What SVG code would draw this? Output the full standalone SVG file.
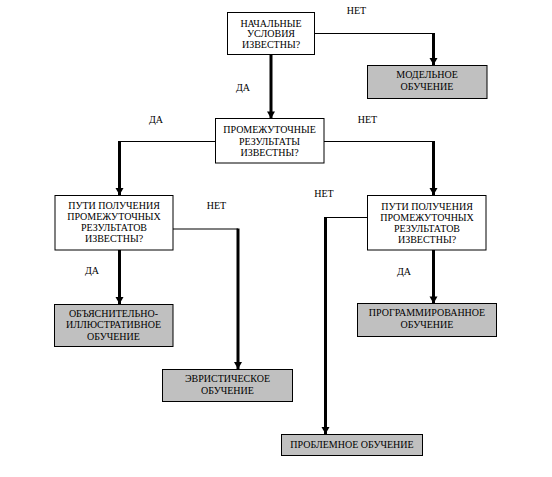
<svg xmlns="http://www.w3.org/2000/svg" width="552" height="477" viewBox="0 0 552 477">
<style>
text{font-family:"Liberation Serif","Times New Roman",serif;font-size:10px;fill:#000;text-anchor:middle}
.q{fill:#fff;stroke:#000;stroke-width:1}
.r{fill:#c0c0c0;stroke:#000;stroke-width:1}
.thin{stroke:#000;stroke-width:1.2;fill:none}
.thick{stroke:#000;stroke-width:3;fill:none}
</style>
<defs>
<marker id="arr" markerUnits="userSpaceOnUse" viewBox="-8 -5 9 10" refX="0" refY="0" markerWidth="9" markerHeight="10" orient="auto" overflow="visible">
<path d="M-7,-4 L-7,4 L0,0 Z" fill="#000"/>
</marker>
</defs>
<rect width="552" height="477" fill="#fff"/>
<g id="connectors">
<line class="thin" x1="315" y1="33.5" x2="433.5" y2="33.5"/>
<line class="thick" x1="433.5" y1="33" x2="433.5" y2="65" marker-end="url(#arr)"/>
<line class="thick" x1="271" y1="55" x2="271" y2="118.5" marker-end="url(#arr)"/>
<line class="thin" x1="215" y1="141.5" x2="119" y2="141.5"/>
<line class="thick" x1="119.5" y1="141" x2="119.5" y2="195" marker-end="url(#arr)"/>
<line class="thin" x1="324" y1="141.5" x2="433.5" y2="141.5"/>
<line class="thick" x1="433.5" y1="141" x2="433.5" y2="195" marker-end="url(#arr)"/>
<line class="thick" x1="119.5" y1="250" x2="119.5" y2="304" marker-end="url(#arr)"/>
<line class="thin" x1="173" y1="229" x2="238" y2="229"/>
<line class="thick" x1="238" y1="228.5" x2="238" y2="369" marker-end="url(#arr)"/>
<line class="thin" x1="367" y1="217.5" x2="325" y2="217.5"/>
<line class="thick" x1="325.5" y1="217" x2="325.5" y2="434" marker-end="url(#arr)"/>
<line class="thick" x1="433.5" y1="250" x2="433.5" y2="303.5" marker-end="url(#arr)"/>
<text x="356.5" y="14">НЕТ</text>
<text x="243" y="91">ДА</text>
<text x="156" y="123">ДА</text>
<text x="367.5" y="123">НЕТ</text>
<text x="324" y="197">НЕТ</text>
<text x="216.5" y="209">НЕТ</text>
<text x="92" y="274">ДА</text>
<text x="404" y="275">ДА</text>
</g>
<g id="n1">
<rect class="q" x="227.5" y="12.5" width="87" height="42"/>
<text x="271" y="26.5">НАЧАЛЬНЫЕ</text>
<text x="271" y="37">УСЛОВИЯ</text>
<text x="271" y="47.5">ИЗВЕСТНЫ?</text>
</g>
<g id="n2">
<rect class="r" x="367.5" y="65.5" width="119.5" height="33"/>
<text x="427" y="78">МОДЕЛЬНОЕ</text>
<text x="427" y="89.5">ОБУЧЕНИЕ</text>
</g>
<g id="n3">
<rect class="q" x="215.5" y="118.5" width="108.5" height="44.5"/>
<text x="269.5" y="133">ПРОМЕЖУТОЧНЫЕ</text>
<text x="269.5" y="144.5">РЕЗУЛЬТАТЫ</text>
<text x="269.5" y="156">ИЗВЕСТНЫ?</text>
</g>
<g id="n4">
<rect class="q" x="55" y="195.5" width="118" height="54.5"/>
<text x="114" y="208.5">ПУТИ ПОЛУЧЕНИЯ</text>
<text x="114" y="219.5">ПРОМЕЖУТОЧНЫХ</text>
<text x="114" y="230.5">РЕЗУЛЬТАТОВ</text>
<text x="114" y="241.5">ИЗВЕСТНЫ?</text>
</g>
<g id="n5">
<rect class="q" x="367.5" y="195.5" width="118.5" height="54.5"/>
<text x="427" y="210">ПУТИ ПОЛУЧЕНИЯ</text>
<text x="427" y="221">ПРОМЕЖУТОЧНЫХ</text>
<text x="427" y="232">РЕЗУЛЬТАТОВ</text>
<text x="427" y="243">ИЗВЕСТНЫ?</text>
</g>
<g id="n6">
<rect class="r" x="54.5" y="304.5" width="118.5" height="42"/>
<text x="113.5" y="317">ОБЪЯСНИТЕЛЬНО-</text>
<text x="113.5" y="328">ИЛЛЮСТРАТИВНОЕ</text>
<text x="113.5" y="339.5">ОБУЧЕНИЕ</text>
</g>
<g id="n7">
<rect class="r" x="357.5" y="303.5" width="139" height="33"/>
<text x="427" y="316">ПРОГРАММИРОВАННОЕ</text>
<text x="427" y="328">ОБУЧЕНИЕ</text>
</g>
<g id="n8">
<rect class="r" x="162.5" y="369.5" width="130" height="32"/>
<text x="227.5" y="382">ЭВРИСТИЧЕСКОЕ</text>
<text x="227.5" y="393.5">ОБУЧЕНИЕ</text>
</g>
<g id="n9">
<rect class="r" x="281.5" y="434.5" width="141" height="21"/>
<text x="352" y="447.5">ПРОБЛЕМНОЕ ОБУЧЕНИЕ</text>
</g>
</svg>
